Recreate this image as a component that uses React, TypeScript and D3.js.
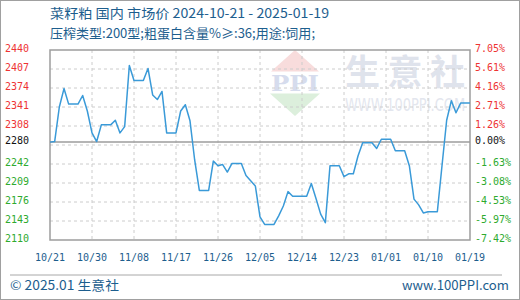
import React from "react";
import * as d3 from "d3";

const titleLine1 = "菜籽粕 国内 市场价 2024-10-21 - 2025-01-19";
const titleLine2 = "压榨类型:200型;粗蛋白含量%≥:36;用途:饲用;";
const footerLeft = "© 2025.01 生意社";
const footerRight = "www.100PPI.com";

const startDate = "2024-10-21";
const endDate = "2025-01-19";
// daily prices (yuan/ton), 2024-10-21 .. 2025-01-19
const prices = [
  2280, 2281, 2341, 2373, 2346, 2346, 2346, // 10/21 - 10/27
  2361, 2334, 2296, 2281, 2310, 2310, 2310, // 10/28 - 11/03
  2318, 2296, 2307, 2413, 2387, 2387, 2387, // 11/04 - 11/10
  2408, 2362, 2354, 2368, 2296, 2296, 2296, // 11/11 - 11/17
  2334, 2345, 2317, 2249, 2196, 2196, 2196, // 11/18 - 11/24
  2247, 2239, 2241, 2228, 2243, 2243, 2243, // 11/25 - 12/01
  2222, 2213, 2204, 2150, 2137, 2137, 2137, // 12/02 - 12/08
  2152, 2169, 2194, 2186, 2186, 2186, 2186, // 12/09 - 12/15
  2208, 2182, 2155, 2140, 2239, 2239, 2239, // 12/16 - 12/22
  2220, 2225, 2225, 2256, 2279, 2279, 2279, // 12/23 - 12/29
  2269, 2285, 2285, 2285, 2265, 2265, 2265, // 12/30 - 01/05
  2239, 2181, 2171, 2157, 2159, 2159, 2159, // 01/06 - 01/12
  2239, 2318, 2352, 2331, 2348, 2348, 2348, // 01/13 - 01/19
];

const xTickDates = [
  "2024-10-21", "2024-10-30", "2024-11-08", "2024-11-17", "2024-11-26",
  "2024-12-05", "2024-12-14", "2024-12-23", "2025-01-01", "2025-01-10", "2025-01-19",
];
const yGridValues = [2440, 2407, 2374, 2341, 2308, 2275, 2242, 2209, 2176, 2143, 2110];
const leftLabels = ["2440", "2407", "2374", "2341", "2308", "2280", "2242", "2209", "2176", "2143", "2110"];
const rightLabels = ["7.05%", "5.61%", "4.16%", "2.71%", "1.26%", "0.00%", "-1.63%", "-3.08%", "-4.53%", "-5.97%", "-7.42%"];
const baseValue = 2280;

const W = 520, H = 300;
const M = { left: 50, right: 470, top: 50, bottom: 240 };

const TEXT_BLUE = "#1d5e8e";
const GRID = "#cccccc";
const FRAME = "#9d9d9d";
const LINE = "#3a9ad8";
const RED = "#ee3333";
const GREEN = "#2eaa2e";

export default function App() {
  const parse = d3.timeParse("%Y-%m-%d");
  const fmt = d3.timeFormat("%m/%d");
  const start = parse(startDate)!;
  const x = d3.scaleTime().domain([start, parse(endDate)!]).range([M.left, M.right]);
  const y = d3.scaleLinear().domain([2110, 2440]).range([M.bottom, M.top]);
  const data = prices.map((v, i) => ({ date: d3.timeDay.offset(start, i), v }));
  const line = d3.line<{ date: Date; v: number }>().x(d => x(d.date)).y(d => y(d.v));
  const ticks = xTickDates.map(s => parse(s)!);

  const labelColor = (i: number) => (i < 5 ? RED : i === 5 ? "#111" : GREEN);
  const mono = "'DejaVu Sans Mono', monospace";
  const cjk = "'Noto Sans CJK SC', 'Noto Sans', sans-serif";

  return (
    <svg width={W} height={H} style={{ position: "absolute", left: 0, top: 0, background: "#fff" }}>
      <rect x={0.5} y={0.5} width={W - 1} height={H - 1} fill="#fff" stroke="#a0a0a0" strokeWidth={1} />

      {/* watermark */}
      <g>
        <polygon points="295,50 271,71.5 319,71.5" fill="#f8dcdc" />
        <text x={295} y={91} textAnchor="middle" fontFamily="'DejaVu Serif', serif" fontWeight="bold" fontSize={22} fill="#d6dced" textLength={48} lengthAdjust="spacingAndGlyphs">PPI</text>
        <polygon points="270,93.5 320,93.5 295,116" fill="#dcefdc" />
        <text x={345} y={85} fontFamily={cjk} fontWeight="bold" fontSize={35} fill="#dfe3ec" textLength={120} lengthAdjust="spacing">生意社</text>
        <text transform="translate(345,111) scale(1,1.35)" x={0} y={0} fontFamily="'DejaVu Sans', sans-serif" fontSize={13} fill="#e3e6ee">WWW.100PPI.COM</text>
      </g>

      {/* titles */}
      <text x={50} y={18} fontFamily={cjk} fontSize={13} fill={TEXT_BLUE} textLength={279} lengthAdjust="spacingAndGlyphs">{titleLine1}</text>
      <text x={50} y={38} fontFamily={cjk} fontSize={13} fill={TEXT_BLUE} textLength={265} lengthAdjust="spacingAndGlyphs">{titleLine2}</text>

      {/* grid */}
      {yGridValues.slice(1, -1).map((v, i) => (
        <line key={"gy" + i} x1={M.left} x2={M.right} y1={y(v)} y2={y(v)} stroke={GRID} strokeWidth={1} strokeDasharray="3,3" />
      ))}
      {ticks.slice(1, -1).map((d, i) => (
        <line key={"gx" + i} x1={x(d)} x2={x(d)} y1={M.top} y2={M.bottom} stroke={GRID} strokeWidth={1} strokeDasharray="3,3" />
      ))}

      {/* base line */}
      <line x1={M.left} x2={M.right} y1={y(baseValue)} y2={y(baseValue)} stroke={FRAME} strokeWidth={1.5} />

      {/* frame */}
      <rect x={M.left} y={M.top} width={M.right - M.left} height={M.bottom - M.top} fill="none" stroke={FRAME} strokeWidth={1.5} />

      {/* data line */}
      <path d={line(data) || ""} fill="none" stroke={LINE} strokeWidth={1.5} strokeLinejoin="round" />

      {/* y labels */}
      {leftLabels.map((s, i) => (
        <text key={"l" + i} x={5} y={y(+s) - 1.5} dominantBaseline="central" fontFamily={mono} fontSize={10} fill={labelColor(i)}>{s}</text>
      ))}
      {rightLabels.map((s, i) => (
        <text key={"r" + i} x={475} y={y(+leftLabels[i]) - 1.5} dominantBaseline="central" fontFamily={mono} fontSize={10} fill={labelColor(i)}>{s}</text>
      ))}

      {/* x labels */}
      {ticks.map((d, i) => (
        <text key={"x" + i} x={x(d)} y={257} textAnchor="middle" dominantBaseline="central" fontFamily={mono} fontSize={10} fill={TEXT_BLUE}>{fmt(d)}</text>
      ))}

      {/* footer */}
      <line x1={10} x2={502} y1={275} y2={275} stroke="#a8a8a8" strokeWidth={1} />
      <text x={10} y={290} fontFamily={cjk} fontSize={13} fill={TEXT_BLUE} textLength={109} lengthAdjust="spacingAndGlyphs">{footerLeft}</text>
      <text x={402} y={290} fontFamily={cjk} fontSize={13} fill={TEXT_BLUE} textLength={107} lengthAdjust="spacingAndGlyphs">{footerRight}</text>
    </svg>
  );
}
